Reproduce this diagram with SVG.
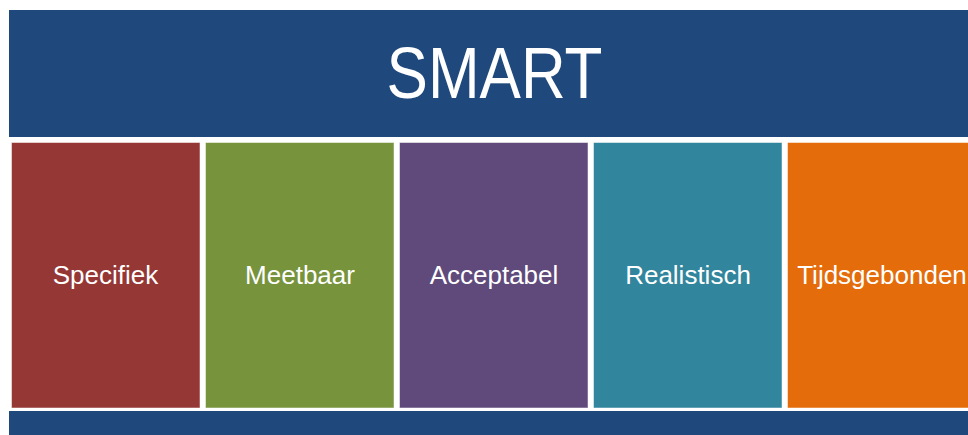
<svg xmlns="http://www.w3.org/2000/svg" width="968" height="435" viewBox="0 0 968 435">
<style>
.bar{fill:#1F497D}
.box{stroke:#ffffff;stroke-opacity:0.5;stroke-width:1}
.lbl{font-family:"Liberation Sans",Arial,sans-serif;font-size:26px;fill:#ffffff;text-anchor:middle}
.title{font-family:"Liberation Sans",Arial,sans-serif;font-size:72px;fill:#ffffff;text-anchor:middle}
</style>
<rect width="968" height="435" fill="#ffffff"/>
<g id="header">
<rect class="bar" x="9" y="10" width="959" height="127"/>
<text class="title" x="494.5" y="98" textLength="216" lengthAdjust="spacingAndGlyphs">SMART</text>
</g>
<g id="specifiek">
<rect class="box" x="11.5" y="142.5" width="188.5" height="265.5" fill="#953735"/>
<text class="lbl" x="105.5" y="284">Specifiek</text>
</g>
<g id="meetbaar">
<rect class="box" x="205.5" y="142.5" width="188.5" height="265.5" fill="#77933C"/>
<text class="lbl" x="300" y="284">Meetbaar</text>
</g>
<g id="acceptabel">
<rect class="box" x="399.5" y="142.5" width="188.5" height="265.5" fill="#604A7B"/>
<text class="lbl" x="494" y="284">Acceptabel</text>
</g>
<g id="realistisch">
<rect class="box" x="593.5" y="142.5" width="188.5" height="265.5" fill="#31859C"/>
<text class="lbl" x="688" y="284">Realistisch</text>
</g>
<g id="tijdsgebonden">
<rect class="box" x="787.5" y="142.5" width="188.5" height="265.5" fill="#E46C0A"/>
<text class="lbl" x="882" y="284">Tijdsgebonden</text>
</g>
<g id="footer">
<rect class="bar" x="9" y="411" width="959" height="24"/>
</g>
<g id="connectors"/>
</svg>
